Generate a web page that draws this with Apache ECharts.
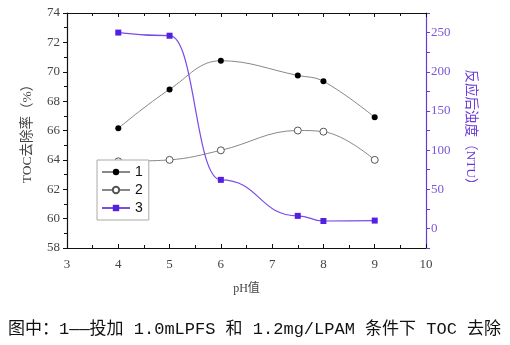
<!DOCTYPE html>
<html><head><meta charset="utf-8">
<script src="https://cdn.jsdelivr.net/npm/echarts@6/dist/echarts.min.js"></script>
<style>html,body{margin:0;padding:0;background:#fff}#c{width:510px;height:345px}</style>
</head><body><div id="c"></div>
<script>
const phValues = [4, 5, 6, 7.5, 8, 9];
const tocRemoval1 = [66.15, 68.8, 70.75, 69.75, 69.35, 66.9];
const tocRemoval2 = [63.9, 64.0, 64.65, 66.0, 65.92, 64.0];
const turbidity3 = [250, 246, 62, 16, 9.5, 10];
const seriesNames = ['1', '2', '3'];
const rightTicks = [0, 50, 100, 150, 200, 250];
const caption = '图中：1——投加 1.0mLPFS 和 1.2mg/LPAM 条件下 TOC 去除';

const pairs = (xs, ys) => xs.map((x, i) => [x, ys[i]]);
const serif = 'Liberation Serif, "Noto Sans CJK SC", serif';
const purple = '#6a3ad8';

const chart = echarts.init(document.getElementById('c'));
chart.setOption({
  animation: false,
  backgroundColor: '#fff',
  grid: { left: 67, right: 84, top: 13, bottom: 97 },
  legend: {
    orient: 'vertical', left: 97, top: 160,
    data: seriesNames,
    backgroundColor: '#fff',
    borderColor: '#aaa', borderWidth: 1, padding: [5, 6, 5, 4],
    itemGap: 4, itemWidth: 28, itemHeight: 8,
    textStyle: { fontFamily: 'Liberation Sans', fontSize: 14, color: '#111' }
  },
  xAxis: [{
    type: 'value', min: 3, max: 10, interval: 1, position: 'bottom',
    name: 'pH值', nameLocation: 'middle', nameGap: 35,
    nameTextStyle: { fontFamily: serif, fontSize: 12, color: '#444' },
    axisLine: { onZero: false, lineStyle: { color: '#111', width: 1.2 } },
    axisTick: { inside: true, length: 4, lineStyle: { color: '#111' } },
    minorTick: { show: true, splitNumber: 2, length: 3, lineStyle: { color: '#111' } },
    axisLabel: { fontFamily: serif, fontSize: 13, color: '#444', margin: 10 },
    splitLine: { show: false }
  }, {
    type: 'value', min: 3, max: 10, interval: 1, position: 'top',
    axisLine: { onZero: false, lineStyle: { color: '#111', width: 1.2 } },
    axisTick: { inside: true, length: 4, lineStyle: { color: '#111' } },
    minorTick: { show: true, splitNumber: 2, length: 3, lineStyle: { color: '#111' } },
    axisLabel: { show: false }, splitLine: { show: false }
  }],
  yAxis: [{
    type: 'value', min: 58, max: 74, interval: 2, position: 'left',
    name: 'TOC去除率（%）', nameLocation: 'middle', nameGap: 33, nameRotate: 90,
    nameTextStyle: { fontFamily: serif, fontSize: 13.5, color: '#444' },
    axisLine: { show: true, onZero: false, lineStyle: { color: '#111', width: 1.2 } },
    axisTick: { show: true, inside: false, length: 4, lineStyle: { color: '#111' } },
    minorTick: { show: true, splitNumber: 2, length: 3, lineStyle: { color: '#111' } },
    axisLabel: { fontFamily: serif, fontSize: 13, color: '#444', margin: 7 },
    splitLine: { show: false }
  }, {
    type: 'value', min: -25, max: 275, interval: 25, position: 'right',
    name: '反应后浊度（NTU）', nameLocation: 'middle', nameGap: 38, nameRotate: -90,
    nameTextStyle: { fontFamily: serif, fontSize: 13.5, color: purple },
    axisLine: { show: true, onZero: false, lineStyle: { color: purple, width: 1.2 } },
    axisTick: { show: true, inside: false, length: 4, lineStyle: { color: purple } },
    axisLabel: { fontFamily: serif, fontSize: 13, color: '#7a55d8', margin: 5,
      customValues: rightTicks },
    splitLine: { show: false }
  }],
  series: [{
    name: seriesNames[0], type: 'line', xAxisIndex: 0, yAxisIndex: 0,
    data: pairs(phValues, tocRemoval1), smooth: 0.4,
    symbol: 'circle', symbolSize: 6,
    itemStyle: { color: '#000' },
    lineStyle: { color: '#888', width: 1 }
  }, {
    name: seriesNames[1], type: 'line', xAxisIndex: 0, yAxisIndex: 0,
    data: pairs(phValues, tocRemoval2), smooth: 0.4,
    symbol: 'circle', symbolSize: 7,
    itemStyle: { color: '#fff', borderColor: '#555', borderWidth: 1 },
    lineStyle: { color: '#888', width: 1 }
  }, {
    name: seriesNames[2], type: 'line', xAxisIndex: 0, yAxisIndex: 1,
    data: pairs(phValues, turbidity3), smooth: 0.5, smoothMonotone: 'x',
    symbol: 'rect', symbolSize: 6,
    itemStyle: { color: '#5420e0' },
    lineStyle: { color: '#7b4be8', width: 1.2 }
  }],
  graphic: [{
    type: 'text', left: 8, top: 321,
    style: { text: caption, font: '17px "Liberation Mono", "Noto Sans CJK SC", monospace', fill: '#111' }
  }]
});
</script></body></html>
